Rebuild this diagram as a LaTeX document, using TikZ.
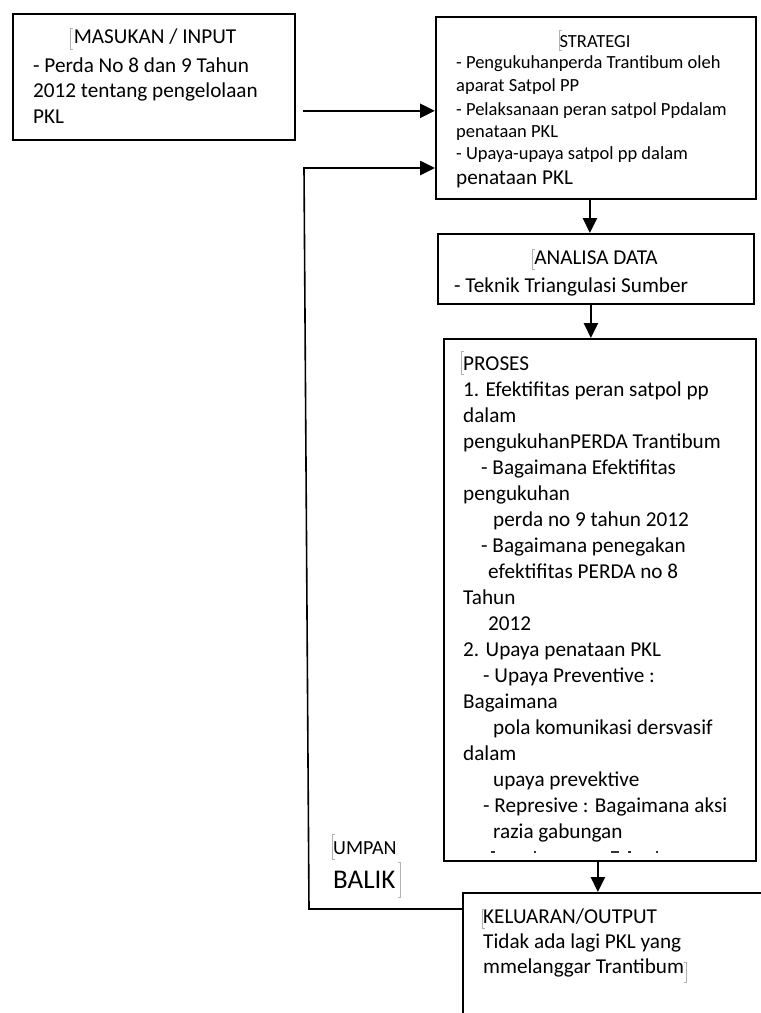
\documentclass[tikz,border=0pt]{standalone}
\usepackage{fontspec}
\setmainfont{Carlito}
\usetikzlibrary{arrows.meta,calc}
\newcommand\lbrk[3]{\draw[brk] (#1+2.5,#2) -- (#1,#2) -- (#1,#3) -- (#1+2.5,#3);}
\newcommand\rbrk[3]{\draw[brk] (#1-2.5,#2) -- (#1,#2) -- (#1,#3) -- (#1-2.5,#3);}
\begin{document}
\begin{tikzpicture}[x=1pt,y=-1pt,
  box/.style={draw, line width=1.8pt, inner sep=0pt, anchor=north west},
  arr/.style={line width=2.6pt, -{Triangle[length=15pt,width=14pt]}},
  fbline/.style={line width=1.6pt},
  txt/.style={anchor=base west, inner sep=0pt},
  ctxt/.style={anchor=base, inner sep=0pt},
  big/.style={font=\fontsize{21.2}{26}\selectfont},
  small/.style={font=\fontsize{18.5}{23}\selectfont},
  brk/.style={draw=gray!60, line width=1pt},
  cut/.style={draw=black!80, line width=1.2pt}]
\useasboundingbox (0,0) rectangle (761,1013);
\begin{scope}
\clip (0,0) rectangle (761,1013);
% boxes
\node[box, minimum width=282pt, minimum height=126pt] (in) at (12,13) {};
\node[box, minimum width=320pt, minimum height=182pt] (strat) at (435,16) {};
\node[box, minimum width=316pt, minimum height=70pt] (anal) at (437,233) {};
\node[box, minimum width=312pt, minimum height=522pt] (proc) at (443,338) {};
\node[box, minimum width=400pt, minimum height=200pt] (out) at (462,892) {};

% input text
\node[ctxt, big] (inT) at (155,43) {MASUKAN / INPUT};
\node[txt, big] (in1) at (33,72) {- Perda No 8 dan 9 Tahun};
\node[txt, big] (in2) at (33,97) {2012 tentang pengelolaan};
\node[txt, big] (in3) at (33,123) {PKL};

% strategy text
\node[ctxt, small] (stT) at (595,47) {STRATEGI};
\node[txt, small] (st1) at (456,68) {- Pengukuhanperda Trantibum oleh};
\node[txt, small] (st2) at (456,91) {aparat Satpol PP};
\node[txt, small] (st3) at (456,115) {- Pelaksanaan peran satpol Ppdalam};
\node[txt, small] (st4) at (456,137) {penataan PKL};
\node[txt, small] (st5) at (456,159) {- Upaya-upaya satpol pp dalam};
\node[txt, big] (st6) at (456,184) {penataan PKL};

% analysis text
\node[ctxt, big] (anT) at (596,264) {ANALISA DATA};
\node[txt, big] (an1) at (454,292) {- Teknik Triangulasi Sumber};

% process text
\foreach \x/\t [count=\i from 0] in {
  463/PROSES,
  463/1. Efektifitas peran satpol pp,
  463/dalam,
  463/pengukuhanPERDA Trantibum,
  481/- Bagaimana Efektifitas,
  463/pengukuhan,
  493/perda no 9 tahun 2012,
  481/- Bagaimana penegakan,
  488/efektifitas PERDA no 8,
  463/Tahun,
  488/2012,
  463/2. Upaya penataan PKL,
  483/- Upaya Preventive :,
  463/Bagaimana,
  493/pola komunikasi dersvasif,
  463/dalam,
  493/upaya prevektive,
  483/- Represive : Bagaimana aksi,
  493/razia gabungan}
  \node[txt, big] (pr\i) at (\x, {370+26*\i}) {\t};
% tops of the clipped next line
\foreach \a/\b in {491/495, 534/536, 611/619, 628/631, 656/658}
  \draw[cut] (\a,852) -- (\b,852);

% output text
\node[txt, big] (ouT) at (483,923) {KELUARAN/OUTPUT};
\node[txt, big] (ou1) at (483,948) {Tidak ada lagi PKL yang};
\node[txt, big] (ou2) at (483,973) {mmelanggar Trantibum};

% feedback label
\node[txt, font=\fontsize{20}{24}\selectfont] (um1) at (333,854) {UMPAN};
\node[txt, font=\fontsize{27}{32}\selectfont] (um2) at (333,888) {BALIK};

% connectors
\draw[arr] ([xshift=7pt,yshift=30pt]in.south east) -- ([yshift=30pt]in.south east -| strat.west);
\draw[arr] ([xshift=-6pt]strat.south) -- ([xshift=-6pt]strat.south |- anal.north);
\draw[arr] ([xshift=-5pt]anal.south) -- ([xshift=-5pt]anal.south |- proc.north);
\draw[arr] ([xshift=-2pt]proc.south) -- ([xshift=-2pt]proc.south |- out.north);
\coordinate (fb1) at (309,909);
\coordinate (fb2) at (304,168);
\draw[fbline] ([yshift=-17pt]out.north west) -- (fb1) -- (fb2);
\draw[arr] ([xshift=-0.8pt]fb2) -- (fb2 -| strat.west);

% text box markers
\lbrk{70.5}{28}{49}
\lbrk{559}{30}{50}
\lbrk{532}{249}{269}
\lbrk{461}{351}{374}
\lbrk{482}{909}{928}
\lbrk{332}{834}{859}
\rbrk{686}{962}{982}
\rbrk{400}{862}{897}
\end{scope}
\end{tikzpicture}
\end{document}
